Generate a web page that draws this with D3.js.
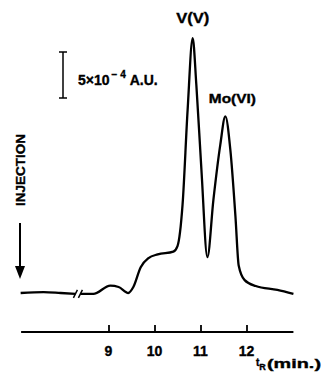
<!DOCTYPE html>
<html>
<head>
<meta charset="utf-8">
<script src="https://cdn.jsdelivr.net/npm/d3@7"></script>
<style>
body { margin: 0; background: #fff; }
text { font-family: "Liberation Sans", Arial, sans-serif; font-weight: bold; fill: #000; stroke: #000; stroke-width: 0.35; }
</style>
</head>
<body>
<svg width="322" height="373"></svg>
<script>
// retention time (min) and absorbance (x 1e-4 A.U.)
var timeA = [7.09, 7.59, 7.96, 8.28];
var signalA = [0, 0.1, 0, -0.1];
var timeB = [8.39, 8.67, 9.04, 9.22, 9.43, 9.54, 9.70, 9.87, 10.07, 10.41, 10.50, 10.61, 10.72, 10.83,
    10.91, 11.02, 11.15, 11.28, 11.43, 11.54, 11.65, 11.76, 11.83, 11.96, 12.20, 12.67, 13.02];
var signalB = [-0.1, -0.1, 0.8, 0.65, 0, 0.65, 2.8, 3.8, 4.2, 4.5, 5.1, 9.6, 19.9, 27.7,
    22.6, 13.4, 3.9, 10.1, 16.1, 19.2, 15.5, 8.3, 3.0, 1.4, 0.76, 0.33, -0.1];
var tickValues = [9, 10, 11, 12];
var breakTime = 8.335;
var peaks = [
    {label: "V(V)", t: 10.83, s: 27.7},
    {label: "Mo(VI)", t: 11.54, s: 19.2}
];
var scaleBar = 5; // 5x10^-4 A.U.

var svg = d3.select("svg");

var x = d3.scaleLinear().domain([9, 12]).range([108.5, 246.5]);
var y = d3.scaleLinear().domain([0, 5]).range([293, 247]);

var segA = timeA.map(function(t, i) { return {t: t, s: signalA[i]}; });
var segB = timeB.map(function(t, i) { return {t: t, s: signalB[i]}; });

var line = d3.line()
    .x(function(d) { return x(d.t); })
    .y(function(d) { return y(d.s); })
    .curve(d3.curveMonotoneX);

svg.selectAll("path.trace")
    .data([segA, segB])
    .join("path")
    .attr("class", "trace")
    .attr("d", line)
    .attr("fill", "none")
    .attr("stroke", "#000")
    .attr("stroke-width", 2.3)
    .attr("stroke-linejoin", "round");

// break marks
var bx = x(breakTime), by = y(-0.1);
[-2.5, 2.5].forEach(function(o) {
    svg.append("line")
        .attr("x1", bx + o - 2).attr("y1", by + 4)
        .attr("x2", bx + o + 2).attr("y2", by - 4)
        .attr("stroke", "#000").attr("stroke-width", 1.5);
});

// time axis
var axisY = 332;
svg.append("line")
    .attr("x1", x(7.1)).attr("x2", x(13.02))
    .attr("y1", axisY).attr("y2", axisY)
    .attr("stroke", "#000").attr("stroke-width", 2);
svg.append("g")
    .attr("transform", "translate(0," + axisY + ")")
    .call(d3.axisTop(x).tickValues(tickValues).tickSize(7).tickFormat(""))
    .call(function(g) { g.select(".domain").remove(); })
    .selectAll(".tick line")
    .attr("stroke", "#000")
    .attr("stroke-width", 1.8);

svg.selectAll("text.tl")
    .data(tickValues)
    .join("text")
    .attr("class", "tl")
    .attr("x", function(d) { return x(d); })
    .attr("y", 356)
    .attr("text-anchor", "middle")
    .style("font-size", "14px")
    .text(function(d) { return d; });

var tl = svg.append("text").attr("x", 256).attr("y", 366).style("font-size", "10px");
tl.append("tspan").text("t");
tl.append("tspan").attr("dy", 4).style("font-size", "9px").text("R");
svg.append("text").attr("x", 267).attr("y", 368)
    .style("font-size", "13px")
    .attr("textLength", 54).attr("lengthAdjust", "spacingAndGlyphs")
    .text("(min.)");

// peak labels
svg.append("text")
    .attr("x", x(peaks[0].t)).attr("y", 23)
    .attr("text-anchor", "middle")
    .style("font-size", "14px")
    .attr("textLength", 33).attr("lengthAdjust", "spacingAndGlyphs")
    .text(peaks[0].label);
svg.append("text")
    .attr("x", x(peaks[1].t) + 7).attr("y", 103)
    .attr("text-anchor", "middle")
    .style("font-size", "12px")
    .attr("textLength", 47).attr("lengthAdjust", "spacingAndGlyphs")
    .text(peaks[1].label);

// scale bar
var sbx = 63, sbTop = 52;
var sbH = y(0) - y(scaleBar);
svg.append("line").attr("x1", sbx).attr("x2", sbx).attr("y1", sbTop).attr("y2", sbTop + sbH)
    .attr("stroke", "#000").attr("stroke-width", 1.5);
[sbTop, sbTop + sbH].forEach(function(yy) {
    svg.append("line").attr("x1", sbx - 4).attr("x2", sbx + 4).attr("y1", yy).attr("y2", yy)
        .attr("stroke", "#000").attr("stroke-width", 1.5);
});
var st = svg.append("text").attr("x", 78).attr("y", 85).style("font-size", "14px");
st.append("tspan").text("5\u00d710");
st.append("tspan").attr("dy", -7).attr("dx", 2).style("font-size", "10px").text("\u2212 4");
st.append("tspan").attr("dy", 7).attr("dx", 4).text("A.U.");

// injection marker
svg.append("text")
    .attr("transform", "translate(25,206) rotate(-90)")
    .style("font-size", "12px")
    .attr("textLength", 72).attr("lengthAdjust", "spacingAndGlyphs")
    .text("INJECTION");
svg.append("line").attr("x1", 20).attr("x2", 20).attr("y1", 223).attr("y2", 272)
    .attr("stroke", "#000").attr("stroke-width", 2);
svg.append("path").attr("d", "M15,266 L25,266 L20,279 Z").attr("fill", "#000");
</script>
</body>
</html>
